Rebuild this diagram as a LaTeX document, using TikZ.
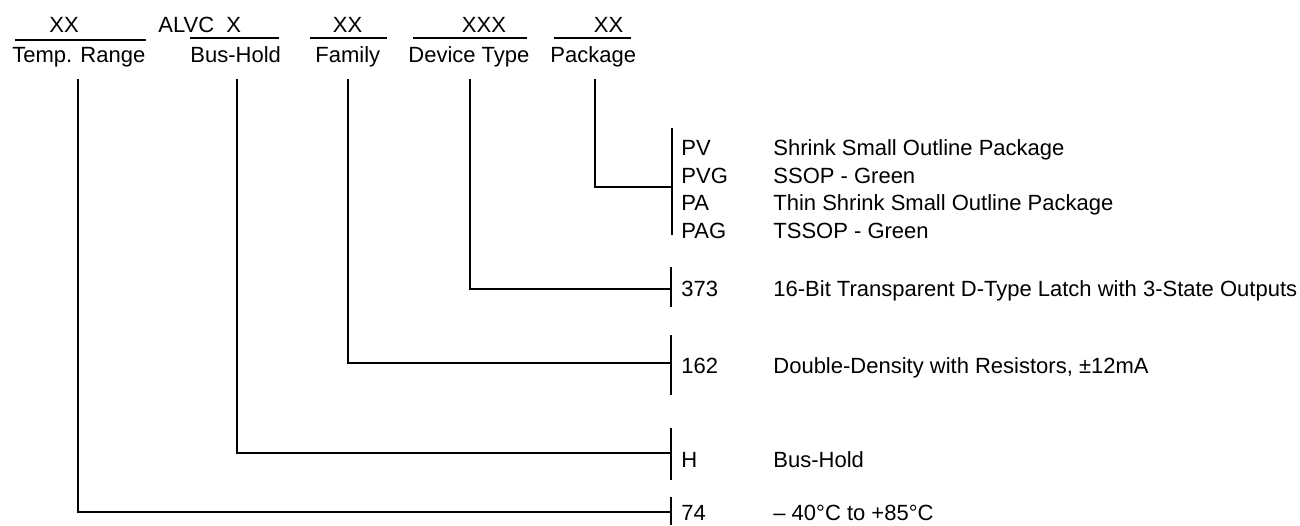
\documentclass[tikz,border=0pt]{standalone}
\usepackage{fontspec}
\setmainfont{Liberation Sans}
\begin{document}
\begin{tikzpicture}[x=0.5pt,y=-0.5pt,
  txt/.style={inner sep=0pt,anchor=base west,font=\fontsize{11}{13}\selectfont},
  ctxt/.style={txt,anchor=base},
  ln/.style={line width=0.7pt,black},
  conn/.style={line width=0.7pt,black}]
\useasboundingbox (0,0) rectangle (1300,525);
% top labels
\node[ctxt] (xx1) at (64,32) {XX};
\node[txt] (alvc) at (158,32) {ALVC\ \ X};
\node[ctxt] (xx2) at (347.5,32) {XX};
\node[ctxt] (xxx) at (484,32) {XXX};
\node[ctxt] (xx3) at (608.5,32) {XX};
\draw[ln] (15,40) -- (146,40);
\draw[ln] (190,38) -- (279,38);
\draw[ln] (310,38) -- (387,38);
\draw[ln] (413,38) -- (527,38);
\draw[ln] (554,38) -- (631,38);
\node[txt] (tr) at (12,62) {Temp. Range};
\node[txt] (bh) at (190,62) {Bus-Hold};
\node[txt] (fam) at (315,62) {Family};
\node[txt] (dt) at (408,62) {Device Type};
\node[txt] (pk) at (550,62) {Package};
% start points of connectors
\coordinate (s1) at (78,79);
\coordinate (s2) at (237,79);
\coordinate (s3) at (348,79);
\coordinate (s4) at (470,79);
\coordinate (s5) at (595,79);
% bars
\draw[ln] (672,128) -- (672,235);
\draw[ln] (671,267) -- (671,307);
\draw[ln] (671,335) -- (671,395);
\draw[ln] (671,428) -- (671,480);
\draw[ln] (671,497) -- (671,525);
\coordinate (e5) at (672,187);
\coordinate (e4) at (671,289);
\coordinate (e3) at (671,363);
\coordinate (e2) at (671,453);
\coordinate (e1) at (671,512);
% connectors
\draw[conn] (s5) |- (e5);
\draw[conn] (s4) |- (e4);
\draw[conn] (s3) |- (e3);
\draw[conn] (s2) |- (e2);
\draw[conn] (s1) |- (e1);
% codes
\node[txt] (pv) at (681,155) {PV};
\node[txt] (pvg) at (681,183) {PVG};
\node[txt] (pa) at (681,210) {PA};
\node[txt] (pag) at (681,238) {PAG};
\node[txt] (c373) at (681,296) {373};
\node[txt] (c162) at (681,373) {162};
\node[txt] (ch) at (681,467) {H};
\node[txt] (c74) at (681,520) {74};
% descriptions
\node[txt] (dpv) at (773,155) {Shrink Small Outline Package};
\node[txt] (dpvg) at (773,183) {SSOP - Green};
\node[txt] (dpa) at (773,210) {Thin Shrink Small Outline Package};
\node[txt] (dpag) at (773,238) {TSSOP - Green};
\node[txt] (d373) at (773,296) {16-Bit Transparent D-Type Latch with 3-State Outputs};
\node[txt] (d162) at (773,373) {Double-Density with Resistors, ±12mA};
\node[txt] (dh) at (773,467) {Bus-Hold};
\node[txt] (d74) at (773,520) {– 40°C to +85°C};
\end{tikzpicture}
\end{document}
